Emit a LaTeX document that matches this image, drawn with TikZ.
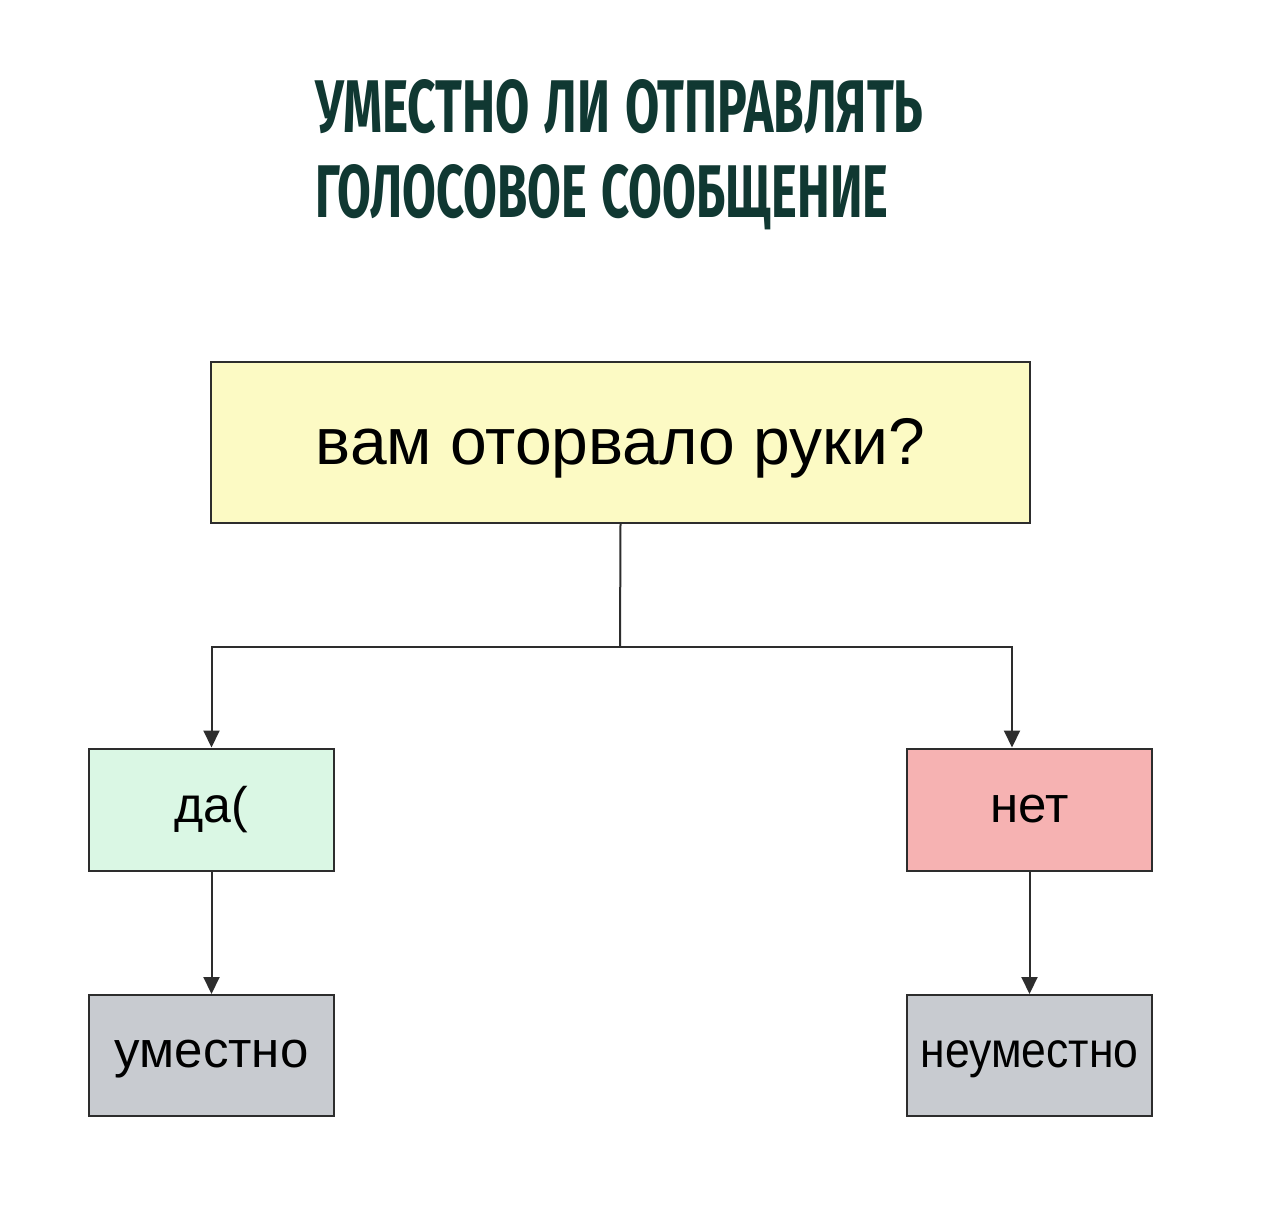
\documentclass[tikz,border=0pt]{standalone}
\usepackage{fontspec}
\setmainfont{Liberation Sans}
\newfontfamily\titlefont{Fira Sans}
\usetikzlibrary{arrows.meta}
\definecolor{titlecol}{RGB}{16,56,50}
\definecolor{qfill}{RGB}{252,250,196}
\definecolor{yesfill}{RGB}{218,247,228}
\definecolor{nofill}{RGB}{246,178,178}
\definecolor{resfill}{RGB}{200,203,208}
\definecolor{linecol}{RGB}{45,45,45}
\tikzset{
  box/.style={draw=linecol, line width=2pt, inner sep=0pt, text=black},
  conn/.style={draw=linecol, line width=2pt},
  arr/.style={conn, -{Triangle[length=17pt,width=16pt]}},
  titletext/.style={inner sep=0pt, text=titlecol, anchor=base west}
}
\begin{document}
\begin{tikzpicture}[x=1pt,y=-1pt]
\useasboundingbox[fill=white] (0,0) rectangle (1280,1213);
% title
\node[titletext] (t1) at (315,132) {\resizebox{608pt}{53pt}{\titlefont\bfseries УМЕСТНО\hspace{0.3em}ЛИ\hspace{0.3em}ОТПРАВЛЯТЬ}};
\node[titletext] (t2) at (315,217) {\resizebox{573pt}{53pt}{\titlefont\bfseries ГОЛОСОВОЕ\hspace{0.3em}СООБЩЕНИЕ}};
% boxes
\node[box, fill=qfill, minimum width=819pt, minimum height=161pt, text height=44pt, text depth=0pt, font=\fontsize{66}{66}\selectfont] (q) at (620.5,442.5) {вам оторвало руки?};
\node[box, fill=yesfill, minimum width=245pt, minimum height=122pt, font=\fontsize{50}{50}\selectfont] (da) at (211.5,809.5) {да(};
\node[box, fill=nofill, minimum width=245pt, minimum height=122pt, font=\fontsize{51}{51}\selectfont] (net) at (1029.5,809.5) {нет};
\node[box, fill=resfill, minimum width=245pt, minimum height=121pt, text height=24pt, text depth=0pt, font=\fontsize{51}{51}\selectfont] (um) at (211.5,1055.5) {уместно};
\node[box, fill=resfill, minimum width=245pt, minimum height=121pt, text height=24pt, text depth=0pt, font=\fontsize{50}{50}\selectfont] (neum) at (1029.5,1055.5) {\scalebox{0.89}[1]{неуместно}};
% connectors
\coordinate (j) at (620,647);
\coordinate (nt) at ([xshift=-17.5pt]net.north);
\draw[conn] (q.south) -- (j);
\draw[arr] (j) -| (da.north);
\draw[arr] (j) -| (nt);
\draw[arr] (da.south) -- (um.north);
\draw[arr] (net.south) -- (neum.north);
\end{tikzpicture}
\end{document}
